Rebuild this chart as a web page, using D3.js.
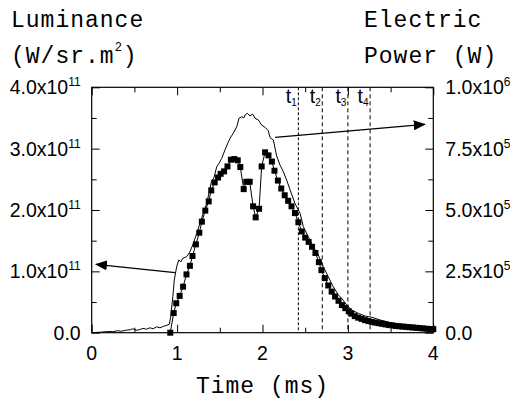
<!DOCTYPE html>
<html>
<head>
<meta charset="utf-8">
<script src="https://cdn.jsdelivr.net/npm/d3@7"></script>
<style>
  body { margin: 0; background: #fff; }
  .tick-label { font-family: "Liberation Sans", Arial, sans-serif; font-size: 19.5px; fill: #000; }
  .title { font-family: "Liberation Mono", "Courier New", monospace; font-size: 23px; letter-spacing: 1px; fill: #000; }
</style>
</head>
<body>
<div id="chart"></div>
<script>
// luminance (squares, left axis, W/sr.m^2)
const lumTime = [0.92, 0.96, 0.99, 1.03, 1.07, 1.11, 1.15, 1.18, 1.22, 1.26, 1.29, 1.33, 1.37, 1.40, 1.44,
    1.48, 1.51, 1.55, 1.59, 1.63, 1.67, 1.71, 1.74, 1.78, 1.81, 1.85, 1.89, 1.92, 1.96, 1.99,
    2.03, 2.07, 2.11, 2.14, 2.18, 2.22, 2.26, 2.30, 2.34, 2.38, 2.42, 2.46, 2.50, 2.54, 2.58,
    2.62, 2.66, 2.69, 2.73, 2.77, 2.81, 2.85, 2.89, 2.93, 2.97, 3.01, 3.04, 3.08, 3.12, 3.16,
    3.20, 3.24, 3.28, 3.32, 3.36, 3.40, 3.44, 3.48, 3.52, 3.56, 3.60, 3.64, 3.68, 3.72, 3.76,
    3.80, 3.84, 3.88, 3.92, 3.96, 4.00];
const lumValue = [0.00, 0.32, 0.48, 0.60, 0.75, 0.95, 1.09, 1.25, 1.44, 1.63, 1.81, 1.99, 2.14, 2.32, 2.45,
    2.53, 2.59, 2.63, 2.71, 2.82, 2.83, 2.81, 2.70, 2.34, 2.46, 2.46, 2.06, 1.88, 2.02, 2.71,
    2.94, 2.89, 2.79, 2.64, 2.48, 2.35, 2.24, 2.15, 2.06, 1.95, 1.80, 1.65, 1.55, 1.48, 1.40,
    1.30, 1.15, 1.02, 0.89, 0.77, 0.67, 0.59, 0.52, 0.45, 0.40, 0.35, 0.31, 0.27, 0.245, 0.225,
    0.205, 0.19, 0.175, 0.165, 0.155, 0.145, 0.135, 0.125, 0.12, 0.11, 0.105, 0.10, 0.095, 0.09, 0.085,
    0.08, 0.075, 0.07, 0.065, 0.06, 0.058].map(v => v * 1e11);

// electric power (thin line, right axis, W)
const powTime = [0, 0.1, 0.2, 0.25, 0.3, 0.35, 0.4, 0.45, 0.48, 0.52, 0.56, 0.6, 0.64, 0.68, 0.72, 0.76,
    0.8, 0.84, 0.88, 0.91, 0.925, 0.95, 0.967, 0.995, 1.019, 1.046, 1.066, 1.112, 1.151, 1.19,
    1.23, 1.268, 1.307, 1.347, 1.38, 1.405, 1.43, 1.464, 1.49, 1.522, 1.561, 1.593, 1.62, 1.658,
    1.698, 1.725, 1.756, 1.78, 1.795, 1.822, 1.854, 1.885, 1.912, 1.951, 1.99, 2.029, 2.068,
    2.088, 2.127, 2.166, 2.205, 2.244, 2.283, 2.32, 2.38, 2.44, 2.478, 2.536, 2.595, 2.653,
    2.712, 2.77, 2.829, 2.888, 2.927, 2.986, 3.044, 3.122, 3.2, 3.278, 3.376, 3.532, 3.766, 4.0];
const powValue = [0.0, 0.002, 0.005, 0.004, 0.008, 0.006, 0.01, 0.012, 0.016, 0.01, 0.012, 0.018, 0.014, 0.02, 0.016, 0.024,
    0.02, 0.026, 0.03, 0.035, 0.065, 0.147, 0.215, 0.269, 0.296, 0.289, 0.303, 0.31, 0.33, 0.364,
    0.405, 0.446, 0.487, 0.527, 0.58, 0.62, 0.63, 0.676, 0.69, 0.71, 0.745, 0.772, 0.792, 0.813,
    0.839, 0.874, 0.88, 0.875, 0.887, 0.894, 0.883, 0.891, 0.874, 0.867, 0.846, 0.837, 0.823,
    0.795, 0.785, 0.72, 0.683, 0.656, 0.622, 0.585, 0.527, 0.487, 0.432, 0.391, 0.35, 0.317,
    0.269, 0.228, 0.187, 0.154, 0.14, 0.113, 0.0925, 0.079, 0.068, 0.063, 0.052, 0.038, 0.024, 0.018].map(v => v * 1e6);

// instants t1..t4 (ms)
const markTimes = [2.42, 2.70, 3.00, 3.26];
const markLabels = ["1", "2", "3", "4"];

const xTicks = [0, 1, 2, 3, 4];
const xMinor = [0.5, 1.5, 2.5, 3.5];
const lumTicks = [0, 1e11, 2e11, 3e11, 4e11];
const lumMinor = [0.5e11, 1.5e11, 2.5e11, 3.5e11];
const powTicks = [0, 2.5e5, 5e5, 7.5e5, 1e6];
const powMinor = [1.25e5, 3.75e5, 6.25e5, 8.75e5];

// arrows: [time, value] start -> end
const lumArrow = [[0.976, 0.98e11], [0.05, 1.115e11]];
const powArrow = [[2.148, 0.796e6], [3.9, 0.849e6]];

const W = 510, H = 401;
const margin = { top: 87.3, right: 76.7, bottom: 68.3, left: 91.7 };
const width = W - margin.left - margin.right,
    height = H - margin.top - margin.bottom;

const svg = d3.select("#chart").append("svg")
    .attr("width", W).attr("height", H);

const defs = svg.append("defs");
defs.append("marker")
    .attr("id", "arrow")
    .attr("markerUnits", "userSpaceOnUse")
    .attr("markerWidth", 12).attr("markerHeight", 10)
    .attr("refX", 11).attr("refY", 5)
    .attr("orient", "auto")
    .append("path")
    .attr("d", "M0,0 L12,5 L0,10 Z")
    .attr("fill", "#000");

const g = svg.append("g")
    .attr("transform", `translate(${margin.left}, ${margin.top})`);

const x = d3.scaleLinear().domain([0, 4]).range([0, width]);
const yL = d3.scaleLinear().domain([0, 4e11]).range([height, 0]);
const yP = d3.scaleLinear().domain([0, 1e6]).range([height, 0]);

// ticks (inward), major and minor
function ticks(axis, values, size, transform) {
    const a = g.append("g").attr("transform", transform)
        .call(axis.tickValues(values).tickSize(-size).tickFormat(""));
    a.select(".domain").remove();
    a.selectAll("line").attr("stroke", "#000").attr("stroke-width", 1);
}
ticks(d3.axisBottom(x), xTicks, 8, `translate(0,${height})`);
ticks(d3.axisBottom(x), xMinor, 5, `translate(0,${height})`);
ticks(d3.axisTop(x), xTicks, 8, "translate(0,0)");
ticks(d3.axisTop(x), xMinor, 5, "translate(0,0)");
ticks(d3.axisLeft(yL), lumTicks, 8, "translate(0,0)");
ticks(d3.axisLeft(yL), lumMinor, 5, "translate(0,0)");
ticks(d3.axisRight(yP), powTicks, 8, `translate(${width},0)`);
ticks(d3.axisRight(yP), powMinor, 5, `translate(${width},0)`);

// frame
g.append("rect")
    .attr("width", width).attr("height", height)
    .attr("fill", "none").attr("stroke", "#000").attr("stroke-width", 1.2);

// tick labels
g.selectAll(".xl").data(xTicks).enter().append("text")
    .attr("class", "tick-label")
    .attr("x", d => x(d)).attr("y", height + 27)
    .attr("text-anchor", "middle")
    .text(d => d);

function sciLabel(sel, mant, exp) {
    sel.append("tspan").text(mant === null ? "0.0" : mant.toFixed(1) + "x10");
    if (mant !== null) {
        sel.append("tspan").attr("dy", -8).attr("font-size", 12).text(exp);
    }
}

g.selectAll(".yl").data(lumTicks).enter().append("text")
    .attr("class", "tick-label")
    .attr("x", -11).attr("y", d => yL(d) + 7)
    .attr("text-anchor", "end")
    .each(function (d) { sciLabel(d3.select(this), d === 0 ? null : d / 1e11, "11"); });

g.selectAll(".pl").data(powTicks).enter().append("text")
    .attr("class", "tick-label")
    .attr("x", width + 12).attr("y", d => yP(d) + 7)
    .attr("text-anchor", "start")
    .each(function (d) {
        if (d === 0) { sciLabel(d3.select(this), null); return; }
        const e = Math.floor(Math.log10(d));
        sciLabel(d3.select(this), d / Math.pow(10, e), String(e));
    });

// dashed markers
markTimes.forEach((t, i) => {
    g.append("line")
        .attr("x1", x(t)).attr("x2", x(t))
        .attr("y1", 0).attr("y2", height)
        .attr("stroke", "#000").attr("stroke-width", 1)
        .attr("stroke-dasharray", i === 0 ? "3,2" : "4,3");
    const lab = g.append("text")
        .attr("class", "tick-label")
        .attr("x", x(t) - 1.5).attr("y", 16)
        .attr("text-anchor", "end")
        .attr("font-size", 17);
    lab.append("tspan").text("t");
    lab.append("tspan").attr("dy", 3).attr("font-size", 10).text(markLabels[i]);
});

// power line
const powData = powTime.map((t, i) => [t, powValue[i]]);
g.append("path")
    .datum(powData)
    .attr("fill", "none").attr("stroke", "#000").attr("stroke-width", 1)
    .attr("d", d3.line().x(d => x(d[0])).y(d => yP(d[1])));

// luminance line + squares
const lumData = lumTime.map((t, i) => [t, lumValue[i]]);
g.append("path")
    .datum(lumData)
    .attr("fill", "none").attr("stroke", "#000").attr("stroke-width", 1)
    .attr("d", d3.line().x(d => x(d[0])).y(d => yL(d[1])));
const sq = 6;
g.selectAll(".sq").data(lumData).enter().append("rect")
    .attr("x", d => x(d[0]) - sq / 2).attr("y", d => yL(d[1]) - sq / 2)
    .attr("width", sq).attr("height", sq)
    .attr("fill", "#000");

// arrows
g.append("line")
    .attr("x1", x(lumArrow[0][0])).attr("y1", yL(lumArrow[0][1]))
    .attr("x2", x(lumArrow[1][0])).attr("y2", yL(lumArrow[1][1]))
    .attr("stroke", "#000").attr("stroke-width", 1.2)
    .attr("marker-end", "url(#arrow)");
g.append("line")
    .attr("x1", x(powArrow[0][0])).attr("y1", yP(powArrow[0][1]))
    .attr("x2", x(powArrow[1][0])).attr("y2", yP(powArrow[1][1]))
    .attr("stroke", "#000").attr("stroke-width", 1.2)
    .attr("marker-end", "url(#arrow)");

// titles
svg.append("text").attr("class", "title").attr("x", 11).attr("y", 27).text("Luminance");
const lu = svg.append("text").attr("class", "title").attr("x", 11).attr("y", 63);
lu.append("tspan").text("(W/sr.m");
lu.append("tspan").attr("dy", -12).attr("font-size", 12).text("2");
lu.append("tspan").attr("dy", 12).text(")");
svg.append("text").attr("class", "title").attr("x", 364).attr("y", 27).text("Electric");
svg.append("text").attr("class", "title").attr("x", 364).attr("y", 63).text("Power (W)");
svg.append("text").attr("class", "title")
    .attr("x", margin.left + width / 2).attr("y", 393)
    .attr("text-anchor", "middle").text("Time (ms)");
</script>
</body>
</html>
